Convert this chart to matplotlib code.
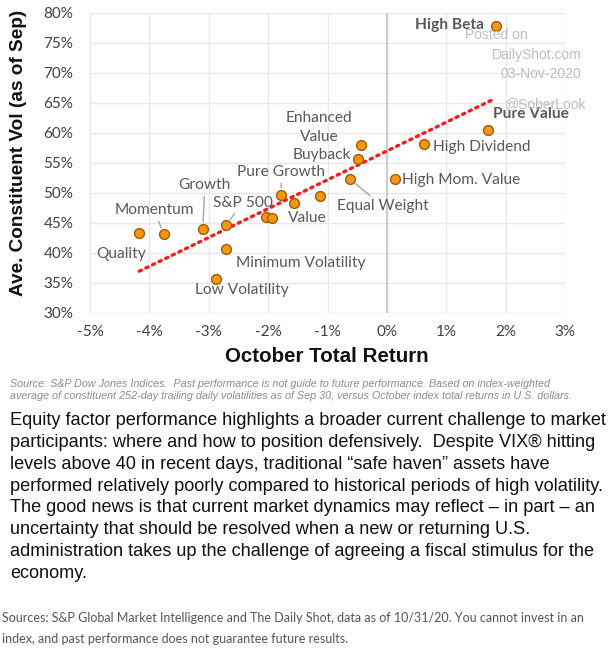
import numpy as np
import matplotlib
matplotlib.use("Agg")
import matplotlib.pyplot as plt
from matplotlib.ticker import FuncFormatter

# ---------------- data ----------------
names = ["High Beta", "Pure Value", "High Dividend", "Enhanced\nValue", "Buyback",
         "Equal Weight", "High Mom. Value", "", "Value", "Pure Growth", "", "",
         "S&P 500", "Growth", "Momentum", "Quality", "Minimum Volatility", "Low Volatility"]
oct_return = [1.83, 1.70, 0.62, -0.43, -0.48, -0.62, 0.13, -1.13, -1.57, -1.78, -2.04, -1.94,
              -2.71, -3.10, -3.76, -4.17, -2.71, -2.88]
vol_sep = [77.9, 60.45, 58.2, 57.95, 55.6, 52.3, 52.3, 49.5, 48.4, 49.67, 46.05, 45.9,
           44.67, 44.0, 43.1, 43.3, 40.67, 35.7]
x_ticks = [-5, -4, -3, -2, -1, 0, 1, 2, 3]
y_ticks = [30, 35, 40, 45, 50, 55, 60, 65, 70, 75, 80]

# label layout: (dx px, dy px, ha, leader line)
layout = {
    "High Beta": (-12, 1, "right", False),
    "Pure Value": (5, 16, "left", False),
    "High Dividend": (9, -3, "left", False),
    "Enhanced\nValue": (-42, 18, "center", False),
    "Buyback": (-7, 4, "right", False),
    "Equal Weight": (-13, -27, "left", True),
    "High Mom. Value": (7, -1, "left", False),
    "Value": (-6, -15, "left", False),
    "Pure Growth": (0, 23, "center", True),
    "S&P 500": (-13, 22, "left", True),
    "Growth": (2, 44, "center", True),
    "Momentum": (-9, 24, "center", True),
    "Quality": (-18, -21, "center", False),
    "Minimum Volatility": (10, -14, "left", False),
    "Low Volatility": (-21, -11, "left", False),
}

W, H = 610, 669
fig = plt.figure(figsize=(W / 100, H / 100), dpi=100)
fig.patch.set_facecolor("white")

def fx(x):
    return x / W

def fy(y):
    return 1 - y / H

ax = fig.add_axes([fx(90), fy(313), fx(565) - fx(90), fy(13) - fy(313)])
ax.set_xlim(-5, 3)
ax.set_ylim(30, 80)
ax.set_xticks(x_ticks)
ax.set_yticks(y_ticks)
ax.xaxis.set_major_formatter(FuncFormatter(lambda v, p: f"{v:.0f}%"))
ax.yaxis.set_major_formatter(FuncFormatter(lambda v, p: f"{v:.0f}%"))
for s in ax.spines.values():
    s.set_visible(False)
ax.grid(True, color="#e8e8e8", lw=1.0, zorder=0)
ax.set_axisbelow(True)
ax.axvline(0, color="#c4c4c4", lw=1.2, zorder=1)
ax.tick_params(length=0, labelcolor="#404040")
ax.tick_params(axis="y", pad=12)
ax.tick_params(axis="x", pad=9)
for lab in ax.get_xticklabels() + ax.get_yticklabels():
    lab.set_fontfamily("Lato")
    lab.set_fontsize(11)

# trendline
coef = np.polyfit(oct_return, vol_sep, 1)
xs = np.array([min(oct_return), max(oct_return)])
ax.plot(xs, np.polyval(coef, xs), color="#ff1a1a", lw=2.4,
        linestyle=(0, (0.7, 1.5)), dash_capstyle="round", zorder=2, clip_on=False)

ax.scatter(oct_return, vol_sep, s=50, color="#f7960f", edgecolor="#9a5c08",
           linewidth=1.0, zorder=4, clip_on=False)

for name, xv, yv in zip(names, oct_return, vol_sep):
    if not name:
        continue
    dx, dy, ha, leader = layout[name]
    bold = name in ("High Beta", "Pure Value")
    kw = dict(arrowprops=dict(arrowstyle="-", color="#a6a6a6", lw=1.0,
                              shrinkA=1, shrinkB=5)) if leader else {}
    ax.annotate(name, (xv, yv), xytext=(dx, dy), textcoords="offset pixels",
                ha=ha, va="center", fontsize=11.2, color="#595959",
                fontfamily="Lato", fontweight="bold" if bold else "normal",
                linespacing=1.45, zorder=5, annotation_clip=False, **kw)

# watermark
wm = dict(color="#bdbdbd", fontsize=10, fontfamily="Liberation Sans", va="center")
fig.text(fx(528), fy(35), "Posted on", ha="right", **wm)
fig.text(fx(582), fy(55), "DailyShot.com", ha="right", **wm)
fig.text(fx(581), fy(74), "03-Nov-2020", ha="right", **wm)
fig.text(fx(586), fy(104), "@SoberLook", ha="right", **wm)

# axis titles
fig.text(fx(19), fy(153), "Ave. Constituent Vol (as of Sep)", rotation=90,
         ha="center", va="center", fontsize=13.7, fontweight="bold",
         fontfamily="Liberation Sans", color="#111111")
fig.text(fx(327), fy(356), "October Total Return", ha="center", va="center",
         fontsize=14.8, fontweight="bold", fontfamily="Liberation Sans", color="#111111")

# source note
src = ("Source: S&P Dow Jones Indices.  Past performance is not guide to future performance. Based on index-weighted\n"
       "average of constituent 252-day trailing daily volatilities as of Sep 30, versus October index total returns in U.S. dollars.")
fig.text(fx(10), fy(390), src, ha="left", va="center", fontsize=7.75, style="italic",
         fontfamily="Liberation Sans", color="#8c8c8c", linespacing=1.2)

para = ("Equity factor performance highlights a broader current challenge to market\n"
        "participants: where and how to position defensively.  Despite VIX\u00ae hitting\n"
        "levels above 40 in recent days, traditional \u201csafe haven\u201d assets have\n"
        "performed relatively poorly compared to historical periods of high volatility.\n"
        "The good news is that current market dynamics may reflect \u2013 in part \u2013 an\n"
        "uncertainty that should be resolved when a new or returning U.S.\n"
        "administration takes up the challenge of agreeing a fiscal stimulus for the\n"
        "economy.")
fig.text(fx(10), fy(497), para, ha="left", va="center", fontsize=13.1,
         fontfamily="Liberation Sans", color="#111111", linespacing=1.38)

foot = ("Sources: S&P Global Market Intelligence and The Daily Shot, data as of 10/31/20. You cannot invest in an\n"
        "index, and past performance does not guarantee future results.")
fig.text(fx(2), fy(628.5), foot, ha="left", va="center", fontsize=9.0,
         fontfamily="Lato", color="#555555", linespacing=1.95)

fig.savefig("out.png", dpi=100, facecolor="white")
